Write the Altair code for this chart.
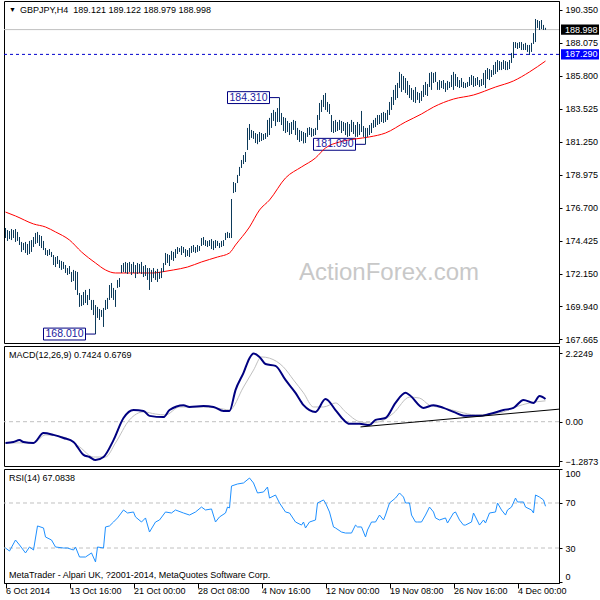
import altair as alt
import pandas as pd

FONT = "Liberation Sans"
BAR_COLOR = "#0c3a5a"

# ---------------- data ----------------
HIGH = [
    175.32, 175.18, 175.11, 175.25, 175.18, 175.25, 175.05, 174.70, 174.36, 174.29,
    174.36, 174.22, 174.43, 174.49, 174.70, 174.98, 175.05, 174.84, 174.77, 174.43,
    173.94, 173.80, 173.87, 173.67, 173.46, 173.32, 173.39, 173.12, 173.05, 172.98,
    172.77, 172.56, 172.70, 172.29, 172.43, 172.36, 172.29, 170.84, 170.70, 170.91,
    171.05, 170.70, 171.12, 170.36, 170.36, 170.01, 169.88, 169.74, 169.67, 169.81,
    170.36, 170.50, 171.39, 171.53, 171.19, 171.05, 171.74, 171.87, 172.77, 172.91,
    172.98, 172.91, 172.98, 172.84, 172.98, 172.77, 172.91, 172.84, 172.98, 172.70,
    172.77, 172.56, 172.56, 172.43, 172.56, 172.36, 172.50, 172.29, 172.56, 172.91,
    173.60, 173.53, 173.46, 173.74, 173.67, 173.87, 174.01, 173.94, 174.08, 174.01,
    173.87, 173.80, 173.94, 174.08, 174.15, 174.01, 174.15, 174.08, 174.63, 174.70,
    174.49, 174.43, 174.49, 174.56, 174.43, 174.49, 174.43, 174.29, 174.43, 174.49,
    174.98, 175.05, 174.98, 177.32, 178.49, 178.42, 178.98, 179.53, 180.01, 180.35,
    180.56, 182.22, 182.49, 182.08, 182.01, 181.87, 181.80, 181.94, 181.87, 181.80,
    181.87, 182.77, 182.91, 183.25, 183.46, 183.32, 183.59, 184.31, 183.25, 182.97,
    182.91, 182.70, 182.56, 182.63, 182.77, 182.70, 182.22, 182.08, 182.01, 181.94,
    181.87, 182.22, 182.28, 182.22, 182.15, 182.22, 183.11, 183.94, 184.15, 184.49,
    184.63, 184.01, 183.87, 183.11, 182.70, 182.77, 182.63, 182.77, 182.70, 182.63,
    182.56, 182.63, 182.49, 182.77, 182.63, 182.42, 182.63, 182.49, 183.39, 182.35,
    182.22, 182.22, 182.42, 182.56, 182.77, 182.91, 183.11, 183.11, 183.25, 183.32,
    183.25, 183.46, 184.01, 184.35, 184.84, 185.18, 185.32, 186.08, 185.94, 185.80,
    185.66, 185.46, 185.18, 184.97, 184.84, 185.04, 184.70, 184.63, 184.77, 185.18,
    185.39, 185.25, 186.01, 186.08, 186.01, 186.08, 185.39, 185.52, 185.46, 185.52,
    185.32, 185.46, 185.39, 185.87, 186.08, 185.94, 185.73, 185.52, 185.66, 185.39,
    185.32, 185.39, 185.73, 185.87, 185.80, 185.66, 185.73, 185.52, 185.59, 186.01,
    186.21, 186.35, 186.28, 186.21, 186.56, 186.77, 186.90, 186.83, 186.77, 186.90,
    186.83, 186.77, 186.90, 187.39, 188.14, 188.14, 188.08, 188.14, 188.14, 188.01,
    188.08, 187.94, 187.94, 188.08, 188.76, 189.73, 189.66, 189.59, 189.66, 189.32,
    189.12,
]
LOW = [
    174.63, 174.43, 174.56, 174.49, 174.63, 174.36, 174.43, 174.15, 173.67, 173.80,
    173.60, 173.46, 173.53, 173.67, 174.01, 174.22, 174.29, 174.08, 173.94, 173.80,
    173.46, 173.39, 173.46, 173.32, 172.77, 172.63, 172.84, 172.56, 172.43, 172.50,
    172.22, 172.08, 172.15, 171.60, 171.67, 171.05, 170.70, 169.88, 169.94, 170.01,
    170.15, 170.01, 170.36, 169.67, 169.32, 168.01, 169.12, 168.98, 169.19, 168.50,
    169.67, 169.74, 170.36, 170.50, 170.36, 169.88, 171.19, 171.25, 172.22, 172.29,
    172.22, 172.15, 172.29, 172.08, 172.22, 171.87, 172.15, 172.22, 172.15, 171.94,
    172.01, 171.74, 171.05, 171.60, 171.87, 171.74, 171.60, 171.81, 171.87, 172.29,
    172.77, 172.91, 172.70, 173.12, 173.05, 173.25, 173.53, 173.67, 173.46, 173.60,
    173.32, 173.39, 173.32, 173.60, 173.67, 173.60, 173.67, 173.74, 174.08, 174.15,
    174.08, 174.01, 174.08, 173.87, 173.80, 173.94, 174.08, 173.94, 174.01, 174.08,
    174.49, 174.63, 174.63, 174.63, 177.73, 177.80, 178.42, 178.91, 179.46, 179.73,
    179.87, 180.70, 181.39, 181.53, 181.46, 181.18, 181.10, 181.25, 181.32, 181.39,
    181.46, 181.60, 181.73, 182.22, 182.70, 182.35, 182.63, 182.63, 182.42, 182.01,
    181.87, 181.94, 181.73, 181.80, 182.08, 181.73, 181.39, 181.25, 181.32, 181.15,
    181.18, 181.60, 181.73, 181.60, 181.66, 181.73, 182.08, 182.77, 183.32, 183.66,
    183.46, 183.32, 183.18, 181.94, 181.87, 181.94, 182.01, 182.08, 181.87, 182.01,
    181.73, 181.60, 181.66, 181.94, 181.80, 181.60, 181.60, 181.73, 181.94, 181.60,
    181.09, 181.60, 181.73, 181.87, 182.22, 182.28, 182.42, 182.49, 182.63, 182.56,
    182.63, 182.77, 183.11, 183.46, 183.80, 184.15, 184.28, 184.97, 184.70, 184.84,
    184.63, 184.49, 184.28, 184.15, 184.01, 183.94, 184.15, 183.94, 184.08, 184.35,
    184.49, 184.42, 185.04, 184.84, 185.32, 185.39, 184.84, 184.84, 184.97, 184.90,
    184.70, 184.84, 184.97, 185.04, 184.84, 185.11, 185.04, 184.97, 185.04, 184.97,
    184.97, 185.04, 185.11, 185.18, 185.04, 185.11, 185.18, 185.04, 185.11, 185.18,
    184.97, 185.59, 185.52, 185.73, 185.87, 185.94, 186.08, 186.21, 186.21, 186.28,
    186.21, 186.21, 186.28, 186.70, 187.04, 187.73, 187.66, 187.73, 187.59, 187.59,
    187.59, 187.46, 187.25, 187.46, 188.01, 188.14, 189.11, 188.97, 189.04, 188.97,
    188.98,
]

MA_I = [0, 5, 14, 20, 25, 32, 38, 45, 50, 55,
        65, 74, 78, 84, 91, 98, 106, 112, 115, 122,
        127, 132, 140, 148, 155, 160, 167, 175, 182, 190,
        200, 208, 214, 224, 234, 245, 254, 262, 270]
MA_V = [176.42, 176.15, 175.60, 175.39, 175.05, 174.49, 173.67, 172.91, 172.43, 172.22,
        172.22, 172.22, 172.29, 172.43, 172.63, 172.98, 173.32, 173.60, 174.15, 175.39,
        176.56, 177.25, 178.77, 179.53, 180.15, 180.84, 181.25, 181.46, 181.60, 181.87,
        182.63, 183.18, 183.66, 184.21, 184.49, 185.04, 185.46, 186.08, 186.83]

MACD_I = [0, 4, 7, 9, 14, 19, 24, 29, 34, 39,
          42, 45, 49, 54, 59, 64, 69, 72, 79, 82,
          89, 92, 99, 104, 109, 112, 115, 119, 122, 124,
          127, 130, 135, 140, 145, 149, 152, 155, 160, 165,
          169, 172, 177, 182, 185, 190, 195, 200, 202, 209,
          214, 219, 224, 230, 237, 242, 249, 254, 259, 264,
          267, 270]
MACD_V = [-0.69, -0.66, -0.60, -0.66, -0.69, -0.37, -0.43, -0.53, -0.66, -1.08,
          -1.15, -1.25, -1.15, -0.60, 0.12, 0.38, 0.35, 0.19, 0.15, 0.38,
          0.54, 0.48, 0.51, 0.48, 0.35, 0.35, 1.03, 1.59, 2.07, 2.22,
          2.11, 1.88, 1.82, 1.36, 0.94, 0.54, 0.38, 0.32, 0.74, 0.38,
          0.06, -0.07, -0.07, -0.11, 0.06, 0.12, 0.61, 0.94, 0.87, 0.45,
          0.54, 0.45, 0.32, 0.19, 0.19, 0.25, 0.38, 0.45, 0.71, 0.61,
          0.84, 0.74]

SIG_I = [0, 14, 20, 29, 37, 44, 50, 55, 62, 69,
         75, 80, 87, 99, 109, 112, 119, 124, 128, 132,
         139, 144, 149, 154, 159, 165, 170, 177, 182, 187,
         194, 202, 207, 212, 219, 227, 235, 242, 249, 255,
         262, 270]
SIG_V = [-0.69, -0.69, -0.43, -0.50, -0.82, -1.15, -1.15, -0.69, 0.06, 0.32,
         0.25, 0.22, 0.48, 0.48, 0.41, 0.38, 1.13, 1.68, 2.11, 2.07,
         1.78, 1.36, 0.94, 0.48, 0.48, 0.61, 0.32, 0.00, -0.04, 0.00,
         0.28, 0.80, 0.77, 0.54, 0.45, 0.32, 0.22, 0.25, 0.32, 0.48,
         0.61, 0.68]

TREND_I = [177.5, 277.0]
TREND_V = [-0.17, 0.41]

RSI_I = [0, 2, 5, 7, 10, 12, 14, 16, 19, 20,
         23, 25, 29, 31, 34, 35, 37, 40, 43, 45,
         46, 49, 50, 52, 54, 56, 59, 61, 64, 65,
         68, 70, 72, 75, 77, 80, 83, 85, 89, 92,
         95, 98, 100, 103, 105, 107, 110, 111, 112, 113,
         116, 119, 122, 124, 126, 129, 131, 132, 135, 137,
         140, 142, 145, 148, 149, 150, 152, 155, 156, 159,
         160, 162, 164, 165, 168, 170, 173, 175, 176, 178,
         180, 181, 183, 185, 187, 189, 190, 192, 195, 197,
         199, 200, 202, 203, 205, 206, 208, 210, 212, 214,
         215, 217, 220, 221, 224, 225, 227, 229, 230, 233,
         234, 235, 237, 239, 240, 242, 245, 246, 248, 250,
         251, 253, 255, 256, 259, 260, 263, 264, 265, 267,
         269, 270]
RSI_V = [30.0, 27.3, 37.1, 32.7, 25.6, 30.9, 28.2, 49.6, 47.8, 39.8,
         37.1, 30.9, 30.0, 30.0, 28.2, 30.9, 22.0, 22.0, 25.6, 17.6,
         30.9, 30.0, 48.7, 49.6, 53.1, 56.7, 63.8, 61.1, 62.0, 57.6,
         53.1, 56.7, 44.2, 53.1, 54.9, 62.0, 61.1, 63.8, 61.1, 59.3,
         62.0, 66.4, 63.8, 64.7, 53.1, 57.6, 61.1, 66.4, 65.6, 85.1,
         86.9, 87.8, 92.2, 87.8, 78.9, 79.8, 84.2, 74.4, 77.1, 70.0,
         62.0, 61.1, 53.1, 50.4, 53.1, 47.8, 53.1, 54.9, 70.0, 72.7,
         70.0, 62.0, 48.7, 47.8, 44.2, 43.3, 43.3, 50.4, 48.7, 48.7,
         39.8, 46.0, 53.1, 53.1, 59.3, 54.9, 59.3, 70.0, 74.4, 78.9,
         75.3, 70.0, 70.0, 59.3, 53.1, 53.1, 53.1, 59.3, 66.4, 62.0,
         56.7, 54.9, 56.7, 52.2, 61.1, 62.0, 54.9, 50.4, 50.4, 53.1,
         61.1, 57.6, 50.4, 54.9, 52.2, 61.1, 62.0, 70.0, 63.8, 59.3,
         63.8, 66.4, 74.4, 70.9, 70.9, 66.4, 63.8, 61.1, 77.1, 75.3,
         72.7, 67.1]

PRICE_TICKS = [190.35, 188.075, 185.8, 183.525, 181.25, 178.975, 176.7, 174.425,
               172.15, 169.94, 167.665]
MACD_TICKS = [2.2249, 0.0, -1.2873]
RSI_TICKS = [100, 70, 30, 0]
DATE_TICKS = [0, 32, 64, 96, 128, 160, 192, 224, 256]
DATE_LABELS = ["6 Oct 2014", "13 Oct 16:00", "21 Oct 00:00", "28 Oct 08:00",
               "4 Nov 16:00", "12 Nov 00:00", "19 Nov 08:00", "26 Nov 16:00",
               "4 Dec 00:00"]

EXT_I = [137, 45, 180]
EXT_V = [184.310, 168.010, 181.090]
EXT_T = ["184.310", "168.010", "181.090"]

LAST_PRICE = 188.998
LEVEL_LINE = 187.290
HEADER = "GBPJPY,H4\u00a0 189.121 189.122 188.979 188.998"
MACD_HEAD = "MACD(12,26,9) 0.7424 0.6769"
RSI_HEAD = "RSI(14) 67.0838"
FOOTER = "MetaTrader - Alpari UK, ?2001-2014, MetaQuotes Software Corp."

assert len(HIGH) == len(LOW)
assert len(MA_I) == len(MA_V)
assert len(MACD_I) == len(MACD_V)
assert len(SIG_I) == len(SIG_V)
assert len(RSI_I) == len(RSI_V)

# ---------------- frames ----------------
bars_df = pd.DataFrame({"i": list(range(len(HIGH))), "high": HIGH, "low": LOW})
ma_df = pd.DataFrame({"i": MA_I, "v": MA_V})
macd_df = pd.DataFrame({"i": MACD_I, "v": MACD_V})
sig_df = pd.DataFrame({"i": SIG_I, "v": SIG_V})
trend_df = pd.DataFrame({"i": TREND_I, "v": TREND_V})
rsi_df = pd.DataFrame({"i": RSI_I, "v": RSI_V})
ext_df = pd.DataFrame({"i": EXT_I, "v": EXT_V, "t": EXT_T})
tag_df = pd.DataFrame({"v": [LAST_PRICE, LEVEL_LINE],
                       "t": [f"{LAST_PRICE:.3f}", f"{LEVEL_LINE:.3f}"],
                       "bg": ["#000000", "#0000ff"]})

W = 555
H1, H2, H3 = 342, 120, 114

xs = alt.Scale(domain=[-0.75, 276.75], nice=False, zero=False)
ps = alt.Scale(domain=[167.393, 190.970], nice=False, zero=False)
ms = alt.Scale(domain=[-1.443, 2.466], nice=False, zero=False)
rs = alt.Scale(domain=[-1.11, 100.22], nice=False, zero=False)

common_ax = dict(title=None, grid=False, domainColor="black", tickColor="black",
                 labelColor="black", labelFont=FONT, labelFontSize=9,
                 tickSize=3, labelPadding=3)
axP = alt.Axis(orient="right", values=PRICE_TICKS, format=".3f", **common_ax)
axM = alt.Axis(orient="right", values=MACD_TICKS,
               labelExpr="datum.value == 0 ? '0.00' : format(datum.value, '.4f')",
               **common_ax)
axR = alt.Axis(orient="right", values=RSI_TICKS, format="d", labelFlush=5, **common_ax)
date_expr = "[" + ",".join("'" + s + "'" for s in DATE_LABELS) + "][round(datum.value/32)]"
axX = alt.Axis(values=DATE_TICKS, labelExpr=date_expr, labelAlign="left",
               labelBaseline="top", labelFlush=False, labelOverlap=False,
               title=None, grid=False, domainColor="black", tickColor="black",
               labelColor="black", labelFont=FONT, labelFontSize=9,
               tickSize=5, labelPadding=-2)


def XN(f):
    return alt.X(f, type="quantitative", scale=xs, axis=None)


def XB(f):
    return alt.X(f, type="quantitative", scale=xs, axis=axX)


def YP(f):
    return alt.Y(f, type="quantitative", scale=ps, axis=axP)


def YM(f):
    return alt.Y(f, type="quantitative", scale=ms, axis=axM)


def YR(f):
    return alt.Y(f, type="quantitative", scale=rs, axis=axR)


def txt(s, x, y, size=9, color="black", align="left", baseline="middle"):
    return alt.Chart(pd.DataFrame({"t": [s]})).mark_text(
        font=FONT, fontSize=size, color=color, align=align, baseline=baseline
    ).encode(x=alt.value(x), y=alt.value(y), text="t:N")


# ---------------- price panel ----------------
cur_line = alt.Chart(tag_df.iloc[[0]]).mark_rule(color="#c0c0c0", strokeWidth=1).encode(y=YP("v"))
lvl_line = alt.Chart(tag_df.iloc[[1]]).mark_rule(
    color="#0000cd", strokeWidth=1, strokeDash=[3, 3]).encode(y=YP("v"))

ext_base = alt.Chart(ext_df).transform_calculate(
    x1="datum.i - 26", x2="datum.i - 5", xc="datum.i - 15.5",
    y1="datum.v + 0.41", y2="datum.v - 0.41")
ext_box = ext_base.mark_rect(fill="white", stroke="#000080", strokeWidth=1).encode(
    x=XN("x1"), x2="x2:Q", y=YP("y1"), y2="y2:Q")
ext_conn = ext_base.mark_rule(color="#000080", strokeWidth=1).encode(
    x=XN("x2"), x2="i:Q", y=YP("v"))
ext_txt = ext_base.mark_text(font=FONT, fontSize=10.5, color="#1a1aa0",
                             align="center", baseline="middle").encode(
    x=XN("xc"), y=YP("v"), text="t:N")

ma_line = alt.Chart(ma_df).mark_line(color="#ff0000", strokeWidth=1, interpolate="monotone").encode(
    x=XN("i"), y=YP("v"))
bars = alt.Chart(bars_df).mark_rule(color=BAR_COLOR, strokeWidth=1).encode(
    x=XN("i"), y=YP("high"), y2="low:Q")

tag_base = alt.Chart(tag_df).transform_calculate(y1="datum.v + 0.35", y2="datum.v - 0.35")
tag_box = tag_base.mark_rect().encode(
    x=alt.value(557), x2=alt.value(595), y=YP("y1"), y2="y2:Q",
    color=alt.Color("bg:N", scale=None))
tag_txt = tag_base.mark_text(font=FONT, fontSize=9, color="white", align="left",
                             baseline="middle").encode(
    x=alt.value(561), y=YP("v"), text="t:N")

watermark = txt("ActionForex.com", 295, 279, size=24, color="#c8c8c8", baseline="alphabetic")

p1 = alt.layer(
    cur_line, lvl_line, ext_box, ma_line, bars, ext_conn, ext_txt,
    tag_box, tag_txt, watermark,
    txt("\u25bc", 5, 9, size=7),
    txt(HEADER, 16, 9),
).properties(width=W, height=H1)

# ---------------- MACD panel ----------------
zero_line = alt.Chart(pd.DataFrame({"v": [0.0]})).mark_rule(
    color="#c0c0c0", strokeWidth=1, strokeDash=[4, 3]).encode(y=YM("v"))
sig_line = alt.Chart(sig_df).mark_line(color="#c0c0c0", strokeWidth=1, interpolate="monotone").encode(
    x=XN("i"), y=YM("v"))
macd_line = alt.Chart(macd_df).mark_line(color="#000080", strokeWidth=2, interpolate="monotone").encode(
    x=XN("i"), y=YM("v"))
trend_line = alt.Chart(trend_df).mark_line(color="black", strokeWidth=1, clip=True).encode(
    x=XN("i"), y=YM("v"))

p2 = alt.layer(zero_line, sig_line, macd_line, trend_line, txt(MACD_HEAD, 5, 9)).properties(
    width=W, height=H2)

# ---------------- RSI panel ----------------
rsi_lvls = alt.Chart(pd.DataFrame({"v": [70, 30]})).mark_rule(
    color="#c0c0c0", strokeWidth=1, strokeDash=[4, 3]).encode(y=YR("v"))
rsi_line = alt.Chart(rsi_df).mark_line(color="#1e90ff", strokeWidth=1).encode(
    x=XB("i"), y=YR("v"))

p3 = alt.layer(rsi_lvls, rsi_line, txt(RSI_HEAD, 5, 9), txt(FOOTER, 5, 106)).properties(
    width=W, height=H3)

chart = alt.vconcat(p1, p2, p3, spacing=3, bounds="flush").properties(
    padding={"left": 1, "top": 0, "right": 0, "bottom": 0},
    background="white",
).configure_view(stroke="black", strokeWidth=1).configure_axis(
    labelFont=FONT
)

chart.save("out.html", embed_options={"renderer": "svg", "actions": False})
